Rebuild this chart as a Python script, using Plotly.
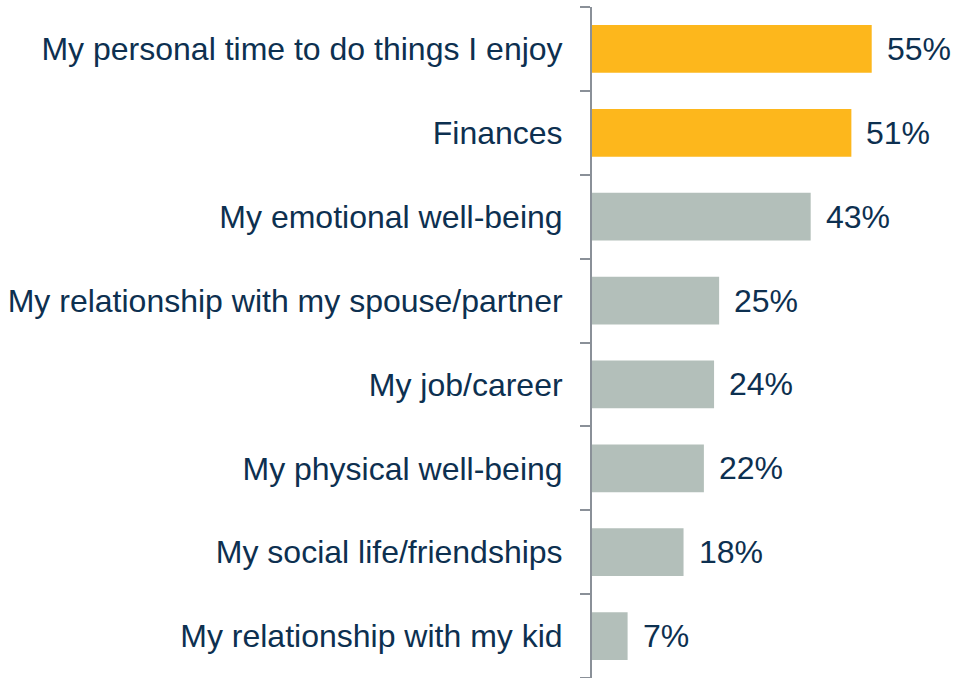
import plotly.graph_objects as go

categories = [
    "My personal time to do things I enjoy",
    "Finances",
    "My emotional well-being",
    "My relationship with my spouse/partner",
    "My job/career",
    "My physical well-being",
    "My social life/friendships",
    "My relationship with my kid",
]
values = [55, 51, 43, 25, 24, 22, 18, 7]
highlight = [True, True, False, False, False, False, False, False]

ORANGE = "#FDB71C"
GREY = "#B3BFBA"
TEXT = "#0D3050"
AXIS = "#8A9098"
FONT = "Liberation Sans, Arial, sans-serif"

colors = [ORANGE if h else GREY for h in highlight]

fig = go.Figure(
    go.Bar(
        x=values,
        y=categories,
        orientation="h",
        marker=dict(color=colors, line=dict(width=0)),
        width=0.57,
        hoverinfo="skip",
    )
)

for cat, val in zip(categories, values):
    fig.add_annotation(
        x=val, y=cat, text=f"{val}%", showarrow=False,
        xanchor="left", yanchor="middle", xshift=13,
        font=dict(family=FONT, size=32, color=TEXT),
    )

fig.update_layout(
    width=961, height=678,
    margin=dict(l=592, r=13, t=7, b=0),
    paper_bgcolor="white", plot_bgcolor="white",
    showlegend=False,
    font=dict(family=FONT, size=32, color=TEXT),
    xaxis=dict(range=[0, 70], visible=False, fixedrange=True),
    yaxis=dict(
        categoryorder="array", categoryarray=categories[::-1],
        range=[-0.5, 7.5],
        showline=True, linecolor=AXIS, linewidth=2,
        ticks="outside", tickson="boundaries", ticklen=10, tickwidth=2, tickcolor=AXIS,
        ticklabelstandoff=21,
        showgrid=False, zeroline=False, fixedrange=True,
    ),
)

fig.write_html("out.html")
